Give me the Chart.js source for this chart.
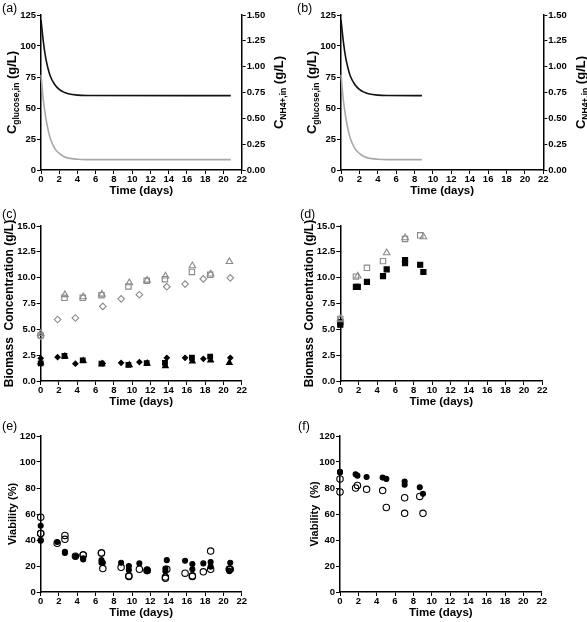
<!DOCTYPE html>
<html>
<head>
<meta charset="utf-8">
<script src="https://cdn.jsdelivr.net/npm/chart.js@4.4.1/dist/chart.umd.min.js"></script>
<style>
    body { margin: 0; background: #fff; }
    #figure { position: relative; width: 587px; height: 622px; background: #fff; }
    #figure canvas { position: absolute; }
    .tag { position: absolute; font: 12.5px 'Liberation Sans', Arial, sans-serif; color: #000; line-height: 1; }
</style>
</head>
<body>
<div id="figure">
    <canvas id="chartA" width="290" height="200" style="left:0;top:0"></canvas>
    <canvas id="chartB" width="297" height="200" style="left:290px;top:0"></canvas>
    <canvas id="chartC" width="290" height="211" style="left:0;top:200px"></canvas>
    <canvas id="chartD" width="297" height="211" style="left:290px;top:200px"></canvas>
    <canvas id="chartE" width="290" height="212" style="left:0;top:410px"></canvas>
    <canvas id="chartF" width="297" height="212" style="left:290px;top:410px"></canvas>
    <div class="tag" style="left:2px;top:2px">(a)</div>
    <div class="tag" style="left:297px;top:2px">(b)</div>
    <div class="tag" style="left:2px;top:208px">(c)</div>
    <div class="tag" style="left:300px;top:208px">(d)</div>
    <div class="tag" style="left:2px;top:420px">(e)</div>
    <div class="tag" style="left:298px;top:420px">(f)</div>
</div>
<script>
// Feed profiles, panels (a) and (b)
const feedDaysA = [0, 0.25, 0.5, 0.75, 1, 1.5, 2, 2.5, 3, 4, 5, 20.8];
const feedDaysB = [0, 0.25, 0.5, 0.75, 1, 1.5, 2, 2.5, 3, 4, 5, 8.8];
const glucoseFeed = [121, 104, 91, 82.5, 76, 69, 65, 62.8, 61.5, 60.4, 60.1, 60];
const ammoniumFeed = [0.92, 0.68, 0.52, 0.40, 0.31, 0.21, 0.16, 0.13, 0.115, 0.104, 0.10, 0.10];

// Biomass, panel (c)
const cTriDays = [0, 2.65, 4.65, 6.7, 9.7, 11.65, 13.65, 16.6, 18.6, 20.65];
const cTriOpen = [4.6, 8.35, 8.15, 8.4, 9.5, 9.75, 10.15, 11.15, 10.35, 11.55];
const cTriFilled = [1.8, 2.4, 1.95, 1.65, 1.55, 1.7, 1.45, 1.9, 2.0, 1.75];
const cSqDays = [0, 2.6, 4.6, 6.65, 9.6, 11.6, 13.6, 16.55, 18.55];
const cSqOpen = [4.4, 8.05, 8.05, 8.3, 9.15, 9.7, 9.85, 10.55, 10.28];
const cSqFilled = [1.7, 2.42, 2.0, 1.68, 1.57, 1.73, 1.75, 2.25, 2.35];
const cDiaDays = [0, 1.85, 3.8, 6.8, 8.8, 10.8, 13.8, 15.8, 17.8, 20.75];
const cDiaOpen = [4.35, 5.95, 6.1, 7.22, 7.95, 8.35, 9.12, 9.38, 9.88, 9.98];
const cDiaFilled = [2.2, 2.3, 1.67, 1.7, 1.76, 1.83, 2.24, 2.24, 2.15, 2.24];

// Biomass, panel (d)
const dSqDays = [0, 1.7, 2.9, 4.65, 7.05, 8.7];
const dSqOpen = [6.0, 10.1, 10.95, 11.6, 13.75, 14.1];
const dSqFilled = [5.45, 9.1, 9.6, 10.15, 11.4, 11.25];
const dTriDays = [0, 1.9, 5.05, 7.05, 9.05];
const dTriOpen = [6.0, 10.15, 12.4, 13.85, 13.95];
const dTriFilled = [5.7, 9.1, 10.8, 11.7, 10.55];

// Viability, panel (e)
const eDaysA = [0, 2.65, 4.65, 6.65, 9.65, 11.65, 13.65, 16.6, 18.6, 20.65];
const eFilledA1 = [40, 31, 26, 24.5, 20, 17.5, 18, 21.5, 23, 16.5];
const eFilledA2 = [39.5, 30, 25, 22.5, 17, 16.5, 16, 17.5, 19.5, 16];
const eOpenA1 = [57.5, 43.5, 28.5, 30, 12.5, 16.5, 11.5, 12.5, 31.5, 17.5];
const eOpenA2 = [45, 40.5, 28.5, 30, 12, 16.5, 10.5, 12, 17.5, 17.5];
const eDaysB = [0, 1.8, 3.8, 6.8, 8.8, 10.8, 13.8, 15.8, 17.8, 20.75];
const eFilledB = [51, 38.5, 27.5, 22.5, 22.5, 22, 24.5, 24, 22, 22.5];
const eOpenB = [45, 37.5, 27.5, 18, 19, 17.5, 17.5, 14.5, 15.5, 17.5];

// Viability, panel (f)
const fDaysA = [0, 1.7, 2.9, 4.65, 7.05, 8.7];
const fFilledA = [92.5, 90.5, 88.5, 88, 85, 80.5];
const fOpenA = [87, 80, 79, 78, 72.5, 73.5];
const fDaysB = [0, 1.9, 5.05, 7.05, 9.05];
const fFilledB = [92, 89.5, 87, 82.5, 75.5];
const fOpenB = [77, 82, 65, 60.5, 60.5];

const FONT = "'Liberation Sans', Arial, sans-serif";
const BLACK = '#000000';
const GREY_LINE = '#a8a8a8';
const GREY_MARK = '#8a8a8a';

function toPoints(days, values) {
    return days.map((d, i) => ({ x: d, y: values[i] }));
}

// Rotated axis title with a subscript (C glucose,in etc.)
const subTitle = {
    id: 'subTitle',
    afterDraw(chart, args, opts) {
        if (!opts.items) return;
        const ctx = chart.ctx;
        const area = chart.chartArea;
        opts.items.forEach(item => {
            const parts = [
                { text: item.main, size: 13, dy: 0 },
                { text: item.sub, size: 8.5, dy: 3 },
                { text: item.tail, size: 13, dy: 0 }
            ];
            ctx.save();
            let total = 0;
            parts.forEach(p => {
                ctx.font = `bold ${p.size}px ${FONT}`;
                p.w = ctx.measureText(p.text).width;
                total += p.w;
            });
            ctx.translate(item.x, (area.top + area.bottom) / 2);
            ctx.rotate(-Math.PI / 2);
            ctx.fillStyle = BLACK;
            ctx.textBaseline = 'alphabetic';
            let pos = -total / 2;
            parts.forEach(p => {
                ctx.font = `bold ${p.size}px ${FONT}`;
                ctx.fillText(p.text, pos, 4.7 + p.dy);
                pos += p.w;
            });
            ctx.restore();
        });
    }
};

function axisStyle() {
    return {
        border: { display: true, color: BLACK, width: 1.5 },
        grid: { display: true, drawOnChartArea: false, drawTicks: true, tickLength: 4, tickWidth: 1, tickColor: BLACK, color: BLACK }
    };
}

function xScale() {
    return {
        type: 'linear', min: 0, max: 22,
        ...axisStyle(),
        ticks: { stepSize: 2, padding: 0, autoSkip: false, maxRotation: 0, color: BLACK, font: { family: FONT, size: 9.5, weight: 'bold' } },
        title: { display: true, text: 'Time (days)', color: BLACK, font: { family: FONT, size: 11.5, weight: 'bold' }, padding: { top: 0, bottom: 2 } },
        afterFit: s => { s.height = 30; }
    };
}

function yScale(o) {
    return {
        type: 'linear', position: o.position || 'left', min: 0, max: o.max,
        ...axisStyle(),
        ticks: {
            stepSize: o.step, padding: 1, autoSkip: false, color: BLACK,
            font: { family: FONT, size: 9.5, weight: 'bold' },
            callback: v => v.toFixed(o.decimals)
        },
        title: o.title
            ? { display: true, text: o.title, color: BLACK, font: { family: FONT, size: o.titleSize, weight: 'bold' }, padding: { top: o.titlePad, bottom: 0 } }
            : { display: false },
        afterFit: s => { s.width = o.width; }
    };
}

function lineSet(days, values, colour, axis) {
    return {
        data: toPoints(days, values), yAxisID: axis, showLine: true,
        borderColor: colour, borderWidth: 1.6, pointRadius: 0,
        cubicInterpolationMode: 'monotone', clip: false
    };
}

function markSet(days, values, style, radius, filled, colour) {
    return {
        data: toPoints(days, values), pointStyle: style, pointRadius: radius, pointHoverRadius: radius,
        pointBackgroundColor: filled ? colour : 'rgba(0,0,0,0)', pointBorderColor: colour,
        pointBorderWidth: 1.1, showLine: false, clip: false
    };
}

function baseOptions(padTop, padRight, scales, titles) {
    return {
        responsive: false,
        animation: false,
        events: [],
        layout: { padding: { top: padTop, right: padRight, left: 0, bottom: 0 } },
        plugins: { legend: { display: false }, tooltip: { enabled: false }, subTitle: { items: titles } },
        scales: scales
    };
}

function feedChart(id, days, leftWidth, rightWidth, leftX, rightX) {
    new Chart(document.getElementById(id), {
        type: 'scatter',
        data: { datasets: [lineSet(days, glucoseFeed, '#111111', 'y'), lineSet(days, ammoniumFeed, GREY_LINE, 'y2')] },
        options: baseOptions(15, 0, {
            x: xScale(),
            y: yScale({ max: 125, step: 25, decimals: 0, width: leftWidth }),
            y2: yScale({ position: 'right', max: 1.5, step: 0.25, decimals: 2, width: rightWidth })
        }, [
            { x: leftX, main: 'C', sub: 'glucose,in', tail: ' (g/L)' },
            { x: rightX, main: 'C', sub: 'NH4+,in', tail: ' (g/L)' }
        ]),
        plugins: [subTitle]
    });
}

feedChart('chartA', feedDaysA, 41, 48.3, 11, 278);
feedChart('chartB', feedDaysB, 51, 43.7, 21.5, 290);

// (c) three reactors, open = upper series, filled = lower series
new Chart(document.getElementById('chartC'), {
    type: 'scatter',
    data: {
        datasets: [
            markSet(cTriDays, cTriOpen, 'triangle', 3.8, false, GREY_MARK),
            markSet(cSqDays, cSqOpen, 'rect', 3.8, false, GREY_MARK),
            markSet(cDiaDays, cDiaOpen, 'rectRot', 3.3, false, GREY_MARK),
            markSet(cTriDays, cTriFilled, 'triangle', 3.3, true, BLACK),
            markSet(cSqDays, cSqFilled, 'rect', 3.3, true, BLACK),
            markSet(cDiaDays, cDiaFilled, 'rectRot', 2.6, true, BLACK)
        ]
    },
    options: baseOptions(26, 48.3, {
        x: xScale(),
        y: yScale({ max: 15, step: 2.5, decimals: 1, width: 40.7, title: 'Biomass  Concentration (g/L)', titleSize: 12, titlePad: 2.8 })
    }, []),
    plugins: [subTitle]
});

new Chart(document.getElementById('chartD'), {
    type: 'scatter',
    data: {
        datasets: [
            markSet(dSqDays, dSqOpen, 'rect', 3.8, false, GREY_MARK),
            markSet(dTriDays, dTriOpen, 'triangle', 3.8, false, GREY_MARK),
            markSet(dSqDays, dSqFilled, 'rect', 3.6, true, BLACK),
            markSet(dTriDays, dTriFilled, 'rect', 3.6, true, BLACK)
        ]
    },
    options: baseOptions(26, 44.7, {
        x: xScale(),
        y: yScale({ max: 15, step: 2.5, decimals: 1, width: 50.3, title: 'Biomass  Concentration (g/L)', titleSize: 12, titlePad: 12.8 })
    }, []),
    plugins: [subTitle]
});

new Chart(document.getElementById('chartE'), {
    type: 'scatter',
    data: {
        datasets: [
            markSet(eDaysA, eOpenA1, 'circle', 3.2, false, BLACK),
            markSet(eDaysA, eOpenA2, 'circle', 3.2, false, BLACK),
            markSet(eDaysB, eOpenB, 'circle', 3.2, false, BLACK),
            markSet(eDaysA, eFilledA1, 'circle', 2.5, true, BLACK),
            markSet(eDaysA, eFilledA2, 'circle', 2.5, true, BLACK),
            markSet(eDaysB, eFilledB, 'circle', 2.5, true, BLACK)
        ]
    },
    options: baseOptions(26, 48.3, {
        x: xScale(),
        y: yScale({ max: 120, step: 20, decimals: 0, width: 40.7, title: 'Viability (%)', titleSize: 11, titlePad: 6.1 })
    }, []),
    plugins: [subTitle]
});

new Chart(document.getElementById('chartF'), {
    type: 'scatter',
    data: {
        datasets: [
            markSet(fDaysA, fOpenA, 'circle', 3.2, false, BLACK),
            markSet(fDaysB, fOpenB, 'circle', 3.2, false, BLACK),
            markSet(fDaysA, fFilledA, 'circle', 2.5, true, BLACK),
            markSet(fDaysB, fFilledB, 'circle', 2.5, true, BLACK)
        ]
    },
    options: baseOptions(26, 45.3, {
        x: xScale(),
        y: yScale({ max: 120, step: 20, decimals: 0, width: 50, title: 'Viability  (%)', titleSize: 11, titlePad: 18.7 })
    }, []),
    plugins: [subTitle]
});
</script>
</body>
</html>
